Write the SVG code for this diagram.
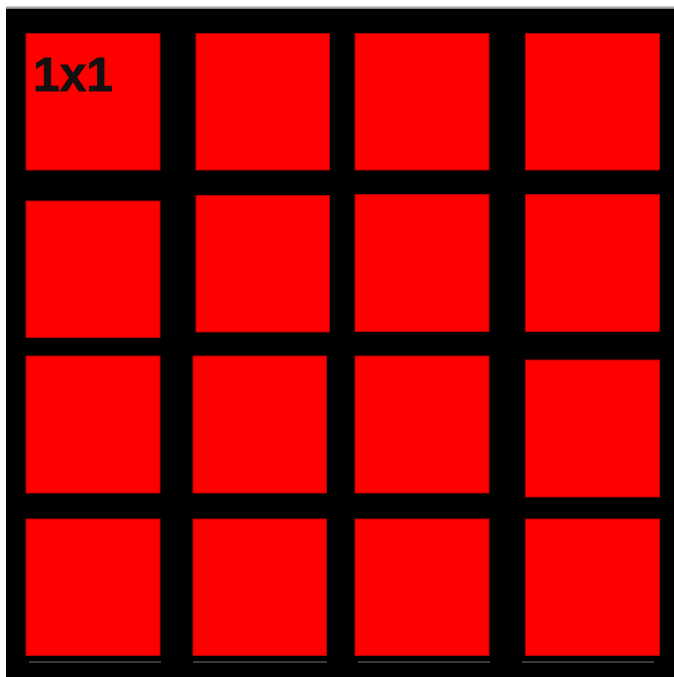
<svg xmlns="http://www.w3.org/2000/svg" width="674" height="677" viewBox="0 0 674 677">
  <defs>
    <linearGradient id="topEdge" x1="0" y1="0" x2="0" y2="1">
      <stop offset="0" stop-color="#e0e0e0"/>
      <stop offset="1" stop-color="#505050"/>
    </linearGradient>
    <style>
      .cell { fill: #ff0000; stroke: #b00000; stroke-width: 1; }
      .shadow { fill: #3a3a3a; }
      .label { font-family: "Liberation Sans", Arial, sans-serif; font-weight: bold; font-size: 49px; fill: #111111; stroke: #111111; stroke-width: 0.8; }
    </style>
  </defs>
  <rect x="0" y="0" width="674" height="677" fill="#ffffff"/>
  <rect x="6" y="6" width="668" height="4" fill="url(#topEdge)"/>
  <rect x="6" y="9" width="668" height="668" fill="#000000"/>

  <g id="shadows">
    <rect class="shadow" x="29" y="661" width="132" height="2"/>
    <rect class="shadow" x="193" y="661" width="134" height="2"/>
    <rect class="shadow" x="358" y="661" width="132" height="2"/>
    <rect class="shadow" x="522" y="661" width="132" height="2"/>
  </g>

  <g id="cell-1-1"><rect class="cell" x="26" y="33.5" width="134" height="136.5"/><text class="label" x="33" y="91" textLength="80" lengthAdjust="spacingAndGlyphs">1x1</text></g>
  <g id="cell-1-2"><rect class="cell" x="196" y="33.5" width="133.5" height="136.5"/></g>
  <g id="cell-1-3"><rect class="cell" x="355" y="33.5" width="134" height="136.5"/></g>
  <g id="cell-1-4"><rect class="cell" x="525.5" y="33.5" width="134" height="136.5"/></g>

  <g id="cell-2-1"><rect class="cell" x="26" y="201" width="134" height="136.5"/></g>
  <g id="cell-2-2"><rect class="cell" x="196" y="195.5" width="133.5" height="136.5"/></g>
  <g id="cell-2-3"><rect class="cell" x="355" y="194.5" width="134" height="137"/></g>
  <g id="cell-2-4"><rect class="cell" x="525.5" y="194.5" width="134" height="137"/></g>

  <g id="cell-3-1"><rect class="cell" x="26" y="356" width="134" height="137"/></g>
  <g id="cell-3-2"><rect class="cell" x="193" y="356" width="133.5" height="137"/></g>
  <g id="cell-3-3"><rect class="cell" x="355" y="356" width="134" height="137"/></g>
  <g id="cell-3-4"><rect class="cell" x="525.5" y="360" width="134" height="137"/></g>

  <g id="cell-4-1"><rect class="cell" x="26" y="519" width="134" height="136.5"/></g>
  <g id="cell-4-2"><rect class="cell" x="193" y="519" width="133.5" height="136.5"/></g>
  <g id="cell-4-3"><rect class="cell" x="355" y="519" width="134" height="136.5"/></g>
  <g id="cell-4-4"><rect class="cell" x="525.5" y="519" width="134" height="136.5"/></g>

  <g id="connectors"></g>
</svg>
